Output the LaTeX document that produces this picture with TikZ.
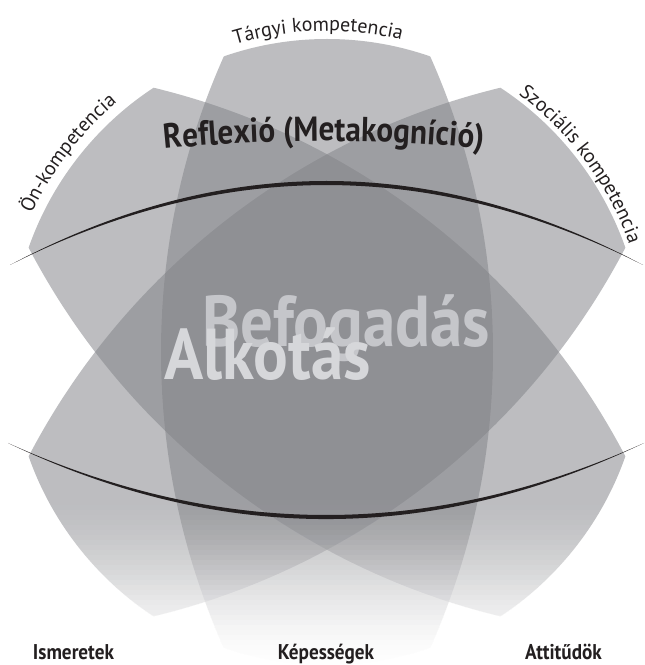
\documentclass[tikz,border=0pt]{standalone}
\usepackage{fontspec}
\setmainfont{PT Sans}[BoldFeatures={FakeStretch=0.9}]
\usetikzlibrary{decorations.text}
\definecolor{leafgrey}{RGB}{130,131,136}
\definecolor{inkblack}{RGB}{35,31,32}
\definecolor{wordgrey}{RGB}{197,198,202}
\definecolor{wordlight}{RGB}{214,215,218}

\begin{document}
\begin{tikzpicture}[%
 x=0.75pt, y=0.75pt,
 leaf/.style={
 	fill=leafgrey,
 	fill opacity=0.53
 },
 stroke/.style={
 	fill=inkblack
 },
 bigword/.style={
 	font=\bfseries\fontsize{54}{56}\selectfont,
 	inner sep=0pt,
 	anchor=base
 },
 pillar/.style={
 	font=\bfseries\fontsize{16}{18}\selectfont,
 	inner sep=0pt,
 	anchor=base,
 	text=inkblack
 },
 arclabel/.style={
 	decorate,
 	decoration={text along path, text align=center, text color=inkblack, text={#1}}
 }
 ]
 \useasboundingbox (0,0) rectangle (644,665);
 \coordinate (O) at (327,313);
 % three competence leaves
 \foreach \ang/\rad in {0/313,52/316,-52/316}{
  \begin{scope}[shift={(O)},rotate=\ang]
   \clip (558.8,0) circle[radius=724.8];
   \clip (-558.8,0) circle[radius=724.8];
   \fill[leaf] (0,0) circle[radius=\rad];
  \end{scope}
 }
 % white fade towards the bottom
 \foreach \k in {0,...,34}{
  \pgfmathsetmacro{\ya}{175-5*\k}
  \pgfmathsetmacro{\ta}{min(1,(\ya+2.5)/175)}
  \pgfmathsetmacro{\tb}{(\ya-2.5)/175}
  \pgfmathsetmacro{\Ta}{3*\ta*\ta-2*\ta*\ta*\ta}
  \pgfmathsetmacro{\Tb}{3*\tb*\tb-2*\tb*\tb*\tb}
  \pgfmathsetmacro{\op}{1-\Tb/\Ta}
  \fill[white, fill opacity=\op] (0,0) rectangle (644,\ya);
 }

 \coordinate (topL) at (10,400);
 \coordinate (topR) at (643,400);
 \coordinate (lowL) at (8,222);
 \coordinate (lowR) at (644,222);
 \fill[stroke] (topL) .. controls (221,512) and (432,512) .. (topR)
  .. controls (432,506.6) and (221,506.6) .. (topL) -- cycle;
 \fill[stroke] (lowL) .. controls (220,120.6) and (432,120.6) .. (lowR)
  .. controls (432,126) and (220,126) .. (lowL) -- cycle;

 \path[arclabel={|\fontsize{15}{18}\selectfont|Tárgyi kompetencia}]
  (O) ++(121.6:321) arc[start angle=121.6, end angle=61.6, radius=321];
 \path[arclabel={|\fontsize{15}{18}\selectfont|Ön-kompetencia}]
  (O) ++(172.5:326) arc[start angle=172.5, end angle=112.5, radius=326];
 \path[arclabel={|\fontsize{15}{18}\selectfont|Szociális kompetencia}]
  (O) ++(66.5:321) arc[start angle=66.5, end angle=6.5, radius=321];
 \path[arclabel={|\bfseries\fontsize{26}{30}\selectfont|Reflexió (Metakogníció)}]
  (324,-1076) ++(100:1600) arc[start angle=100, end angle=80, radius=1600];

 \node[bigword, text=wordgrey] (befog) at (346,318) {Befogadás};
 \node[bigword, text=wordlight] (alkot) at (267.5,285) {Alkotás};

 \node[pillar] (ism) at (73.5,6) {Ismeretek};
 \node[pillar] (kep) at (326,6) {Képességek};
 \node[pillar] (att) at (563.5,6) {Attitűdök};
\end{tikzpicture}
\end{document}
